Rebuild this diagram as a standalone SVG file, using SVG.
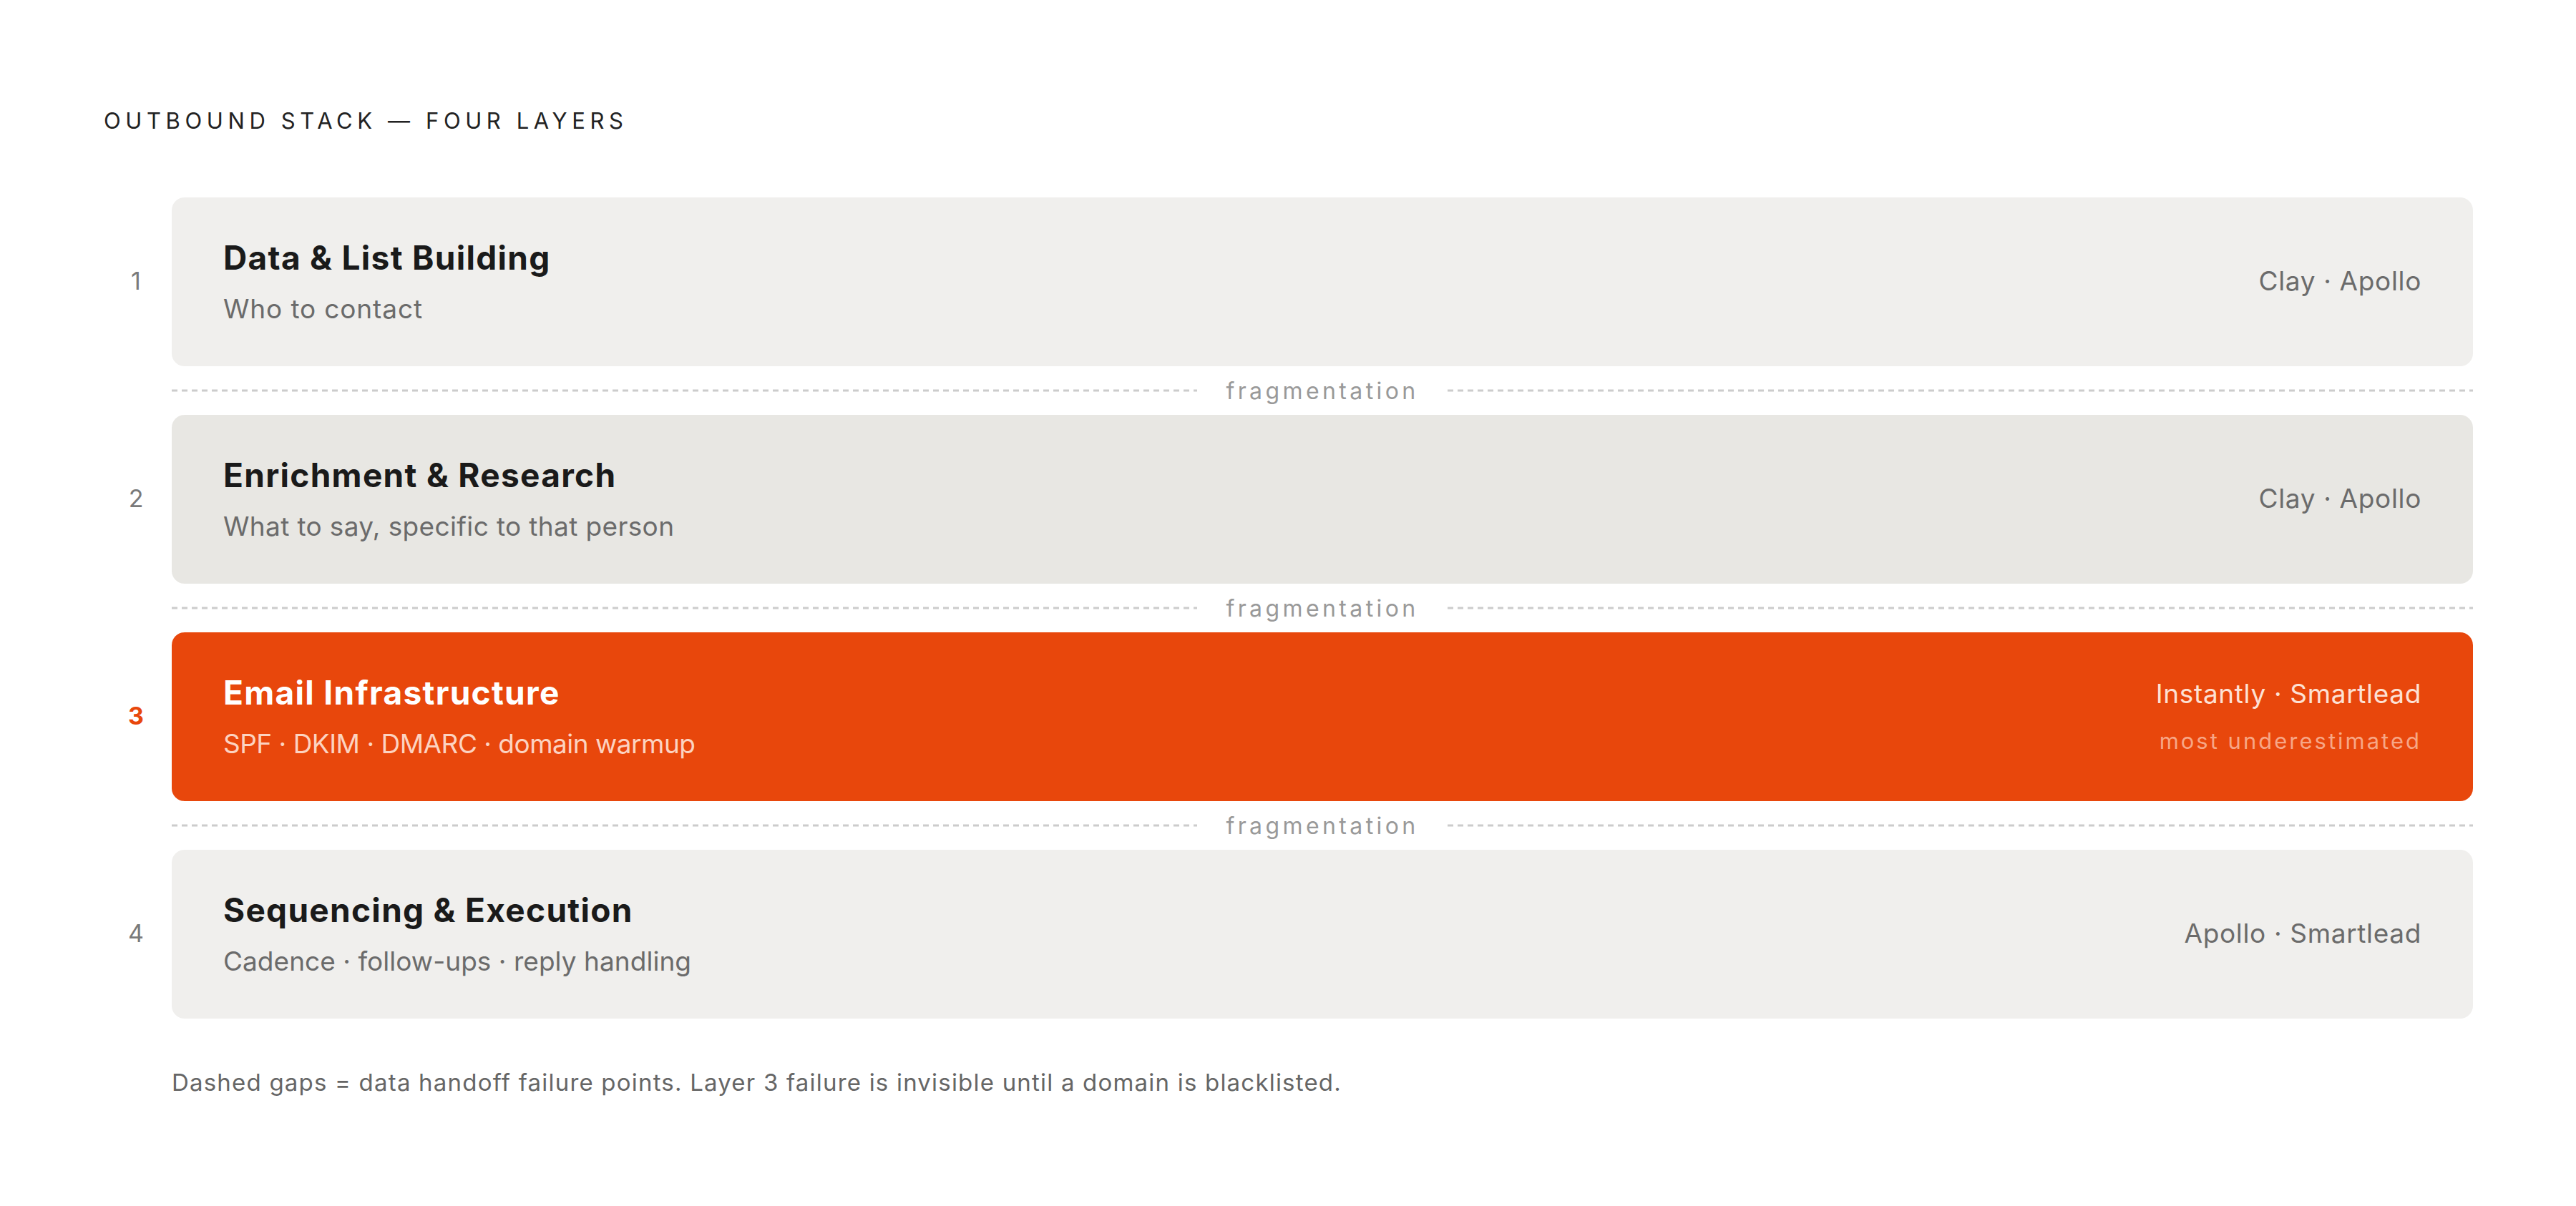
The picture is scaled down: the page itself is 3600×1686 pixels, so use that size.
<svg xmlns="http://www.w3.org/2000/svg" width="3600" height="1686" viewBox="0 0 3600 1686">
<style>
  text { font-family: Inter, "Liberation Sans", sans-serif; }
  .hdr { font-size: 31px; letter-spacing: 6.6px; fill: #222; }
  .box { fill: #f0efed; }
  .box2 { fill: #e8e7e3; }
  .box3 { fill: #e8470c; }
  .num { font-size: 34px; fill: #7a7a7a; text-anchor: middle; }
  .num3 { font-size: 34px; fill: #e8470c; font-weight: 700; text-anchor: middle; }
  .title { font-size: 46px; font-weight: 700; fill: #1a1a1a; letter-spacing: 1.3px; }
  .sub { font-size: 37px; fill: #6b6b6b; }
  .tools { font-size: 37px; fill: #6b6b6b; text-anchor: end; letter-spacing: 0.65px; }
  .t3 { fill: #ffffff; }
  .s3 { fill: #fcd3c1; }
  .tools3 { font-size: 37px; fill: #fde1d4; text-anchor: end; letter-spacing: 0.65px; }
  .note3 { font-size: 31px; fill: #f7a686; text-anchor: end; letter-spacing: 3px; }
  .dash { stroke: #cccccc; stroke-width: 3; stroke-dasharray: 8 6; fill: none; }
  .frag { font-size: 32px; fill: #999999; text-anchor: middle; letter-spacing: 4.4px; }
  .foot { font-size: 33px; fill: #666666; letter-spacing: 1.2px; }
</style>
<rect width="3600" height="1686" fill="#ffffff"/>
<text class="hdr" x="145" y="180">OUTBOUND STACK — FOUR LAYERS</text>

<g id="connectors">
  <line class="dash" x1="240" y1="546" x2="1673" y2="546"/>
  <line class="dash" x1="2023" y1="546" x2="3456" y2="546"/>
  <text class="frag" x="1848" y="558">fragmentation</text>
  <line class="dash" x1="240" y1="850" x2="1673" y2="850"/>
  <line class="dash" x1="2023" y1="850" x2="3456" y2="850"/>
  <text class="frag" x="1848" y="862">fragmentation</text>
  <line class="dash" x1="240" y1="1154" x2="1673" y2="1154"/>
  <line class="dash" x1="2023" y1="1154" x2="3456" y2="1154"/>
  <text class="frag" x="1848" y="1166">fragmentation</text>
</g>

<g id="layer1">
  <text class="num" x="190" y="405">1</text>
  <rect class="box" x="240" y="276" width="3216" height="236" rx="18"/>
  <text class="title" x="312" y="377">Data &amp; List Building</text>
  <text class="sub" x="312" y="445" textLength="278" lengthAdjust="spacing">Who to contact</text>
  <text class="tools" x="3384" y="406">Clay · Apollo</text>
</g>

<g id="layer2">
  <text class="num" x="190" y="709">2</text>
  <rect class="box2" x="240" y="580" width="3216" height="236" rx="18"/>
  <text class="title" x="312" y="681">Enrichment &amp; Research</text>
  <text class="sub" x="312" y="749" textLength="630" lengthAdjust="spacing">What to say, specific to that person</text>
  <text class="tools" x="3384" y="710">Clay · Apollo</text>
</g>

<g id="layer3">
  <text class="num3" x="190" y="1013">3</text>
  <rect class="box3" x="240" y="884" width="3216" height="236" rx="18"/>
  <text class="title t3" x="312" y="985">Email Infrastructure</text>
  <text class="sub s3" x="312" y="1053" textLength="660" lengthAdjust="spacing">SPF · DKIM · DMARC · domain warmup</text>
  <text class="tools3" x="3384" y="983">Instantly · Smartlead</text>
  <text class="note3" x="3384" y="1047">most underestimated</text>
</g>

<g id="layer4">
  <text class="num" x="190" y="1317">4</text>
  <rect class="box" x="240" y="1188" width="3216" height="236" rx="18"/>
  <text class="title" x="312" y="1289">Sequencing &amp; Execution</text>
  <text class="sub" x="312" y="1357" textLength="654" lengthAdjust="spacing">Cadence · follow-ups · reply handling</text>
  <text class="tools" x="3384" y="1318">Apollo · Smartlead</text>
</g>

<text class="foot" x="240" y="1525">Dashed gaps = data handoff failure points. Layer 3 failure is invisible until a domain is blacklisted.</text>
</svg>
